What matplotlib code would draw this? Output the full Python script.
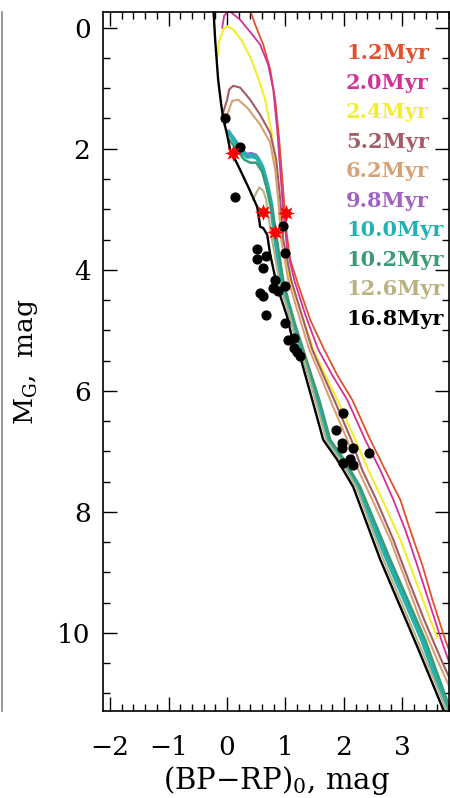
import matplotlib
matplotlib.use("Agg")
import matplotlib.pyplot as plt
from matplotlib.ticker import MultipleLocator
from matplotlib.lines import Line2D

# --- isochrones: (BP-RP)_0 colour, M_G ---
c_16_8 = [-0.236, -0.202, -0.151, -0.099, -0.065, 0.003, 0.055, 0.140, 0.226, 0.363, 0.517, 0.551,
          0.568, 0.620, 0.688, 0.740, 0.860, 1.031, 1.134, 1.253, 1.459, 1.647, 1.887, 2.161, 2.623,
          3.257, 3.702, 3.822]
m_16_8 = [-0.38, 0.20, 0.86, 1.27, 1.49, 1.77, 2.02, 2.18, 2.35, 2.63, 2.96, 3.17,
          3.29, 3.31, 3.42, 3.75, 4.28, 4.78, 5.21, 5.44, 6.15, 6.81, 7.14, 7.59, 8.79,
          10.23, 11.27, 11.55]

c_12_6 = [0.449, 0.500, 0.551, 0.620, 0.671, 0.705, 0.757, 0.825, 0.911, 1.082, 1.185, 1.305,
          1.510, 1.699, 1.938, 2.212, 2.675, 3.308, 3.753, 3.870]
m_12_6 = [2.84, 2.73, 2.64, 2.69, 2.84, 3.09, 3.42, 3.80, 4.28, 4.78, 5.21, 5.44,
          6.15, 6.81, 7.14, 7.59, 8.79, 10.23, 11.27, 11.55]

c_10_2 = [0.038, 0.175, 0.295, 0.397, 0.500, 0.603, 0.688, 0.774, 0.843, 0.894, 0.962, 1.048,
          1.168, 1.305, 1.579, 1.767, 2.007, 2.281, 2.795, 3.394, 3.822, 3.95]
m_10_2 = [1.85, 2.02, 2.18, 2.23, 2.23, 2.38, 2.68, 3.01, 3.42, 3.75, 4.17, 4.50,
          4.91, 5.32, 6.15, 6.81, 7.14, 7.59, 8.79, 10.12, 11.27, 11.50]

c_10_0 = [0.038, 0.140, 0.260, 0.346, 0.432, 0.517, 0.603, 0.688, 0.757, 0.808, 0.860, 0.928,
          1.014, 1.134, 1.271, 1.545, 1.733, 1.973, 2.247, 2.743, 3.342, 3.771, 3.908]
m_10_0 = [1.74, 1.88, 2.05, 2.13, 2.12, 2.15, 2.30, 2.60, 2.93, 3.34, 3.72, 4.17,
          4.50, 4.91, 5.32, 6.15, 6.81, 7.14, 7.59, 8.79, 10.12, 11.27, 11.52]

c_9_8 = [0.021, 0.130, 0.250, 0.335, 0.420, 0.505, 0.590, 0.675, 0.745, 0.795, 0.848, 0.915,
         1.000, 1.120, 1.257, 1.530, 1.718, 1.958, 2.232, 2.728, 3.327, 3.756, 3.890]
m_9_8 = [1.70, 1.84, 2.00, 2.08, 2.07, 2.10, 2.25, 2.55, 2.88, 3.30, 3.70, 4.15,
         4.48, 4.89, 5.30, 6.13, 6.79, 7.12, 7.57, 8.77, 10.10, 11.25, 11.50]

c_6_2 = [-0.048, 0.021, 0.089, 0.192, 0.346, 0.568, 0.740, 0.825, 0.877, 0.928, 1.048, 1.253,
         1.408, 1.596, 1.767, 2.058, 2.247, 2.486, 2.795, 3.052, 3.308, 3.600, 3.908]
m_6_2 = [1.60, 1.39, 1.21, 1.19, 1.32, 1.60, 1.90, 2.35, 2.84, 3.50, 4.17, 4.83,
         5.32, 5.74, 6.15, 6.81, 7.31, 7.80, 8.46, 9.12, 9.79, 10.45, 11.11]

c_5_2 = [-0.065, 0.003, 0.038, 0.106, 0.226, 0.397, 0.568, 0.740, 0.843, 0.911, 0.962, 1.099,
         1.305, 1.459, 1.647, 1.835, 2.127, 2.315, 2.555, 2.846, 3.103, 3.377, 3.668, 3.976]
m_5_2 = [1.40, 1.19, 1.02, 0.96, 0.99, 1.19, 1.44, 1.74, 2.18, 2.84, 3.50, 4.17,
         4.83, 5.32, 5.74, 6.15, 6.81, 7.31, 7.80, 8.46, 9.12, 9.79, 10.45, 11.11]

c_2_4 = [-0.168, -0.134, -0.065, 0.003, 0.106, 0.243, 0.397, 0.534, 0.654, 0.757, 0.843, 0.894,
         0.962, 1.082, 1.253, 1.476, 1.682, 1.887, 2.195, 2.418, 2.658, 2.966, 3.223, 3.445, 3.600]
m_2_4 = [0.50, 0.23, 0.03, -0.03, 0.03, 0.20, 0.48, 0.83, 1.19, 1.69, 2.35, 3.01,
         3.67, 4.17, 4.66, 5.32, 5.74, 6.15, 6.81, 7.31, 7.80, 8.46, 9.12, 9.70, 10.08]

c_2_0 = [-0.082, -0.048, 0.038, 0.226, 0.397, 0.568, 0.705, 0.791, 0.860, 0.911, 0.962, 1.031,
         1.151, 1.339, 1.562, 1.801, 2.058, 2.366, 2.623, 2.846, 3.052, 3.223, 3.445, 3.668, 3.908]
m_2_0 = [0.00, -0.20, -0.28, -0.13, 0.07, 0.28, 0.61, 1.02, 1.69, 2.35, 3.01, 3.67,
         4.17, 4.74, 5.32, 5.74, 6.15, 6.81, 7.31, 7.80, 8.30, 8.79, 9.45, 10.12, 10.78]

c_1_2 = [0.363, 0.483, 0.620, 0.740, 0.825, 0.894, 0.962, 1.014, 1.082, 1.219, 1.425, 1.664,
         1.887, 2.144, 2.452, 2.709, 2.880, 2.966, 3.103, 3.223, 3.342, 3.514, 3.736, 3.959]
m_1_2 = [-0.38, -0.05, 0.28, 0.69, 1.19, 1.85, 2.68, 3.34, 3.83, 4.25, 4.83, 5.32,
         5.74, 6.15, 6.81, 7.31, 7.64, 7.80, 8.21, 8.55, 8.88, 9.45, 10.12, 10.69]

# --- cluster members ---
star_c = [-0.031, 0.226, 0.140, 0.960, 0.517, 0.517, 0.670, 0.620, 1.000, 0.825, 0.790, 0.877,
          1.000, 0.568, 0.620, 0.670, 1.000, 1.050, 1.150, 1.150, 1.200, 1.250,
          1.990, 1.870, 1.970, 1.960, 2.160, 2.430, 2.110, 1.990, 2.160]
star_m = [1.49, 1.97, 2.79, 3.27, 3.65, 3.82, 3.78, 3.97, 3.72, 4.17, 4.30, 4.35,
          4.26, 4.38, 4.43, 4.74, 4.88, 5.16, 5.12, 5.29, 5.35, 5.42,
          6.36, 6.64, 6.86, 6.95, 6.94, 7.02, 7.12, 7.19, 7.22]

red_c = [0.106, 0.620, 1.010, 0.825]
red_m = [2.07, 3.04, 3.06, 3.37]

ages = ["1.2Myr", "2.0Myr", "2.4Myr", "5.2Myr", "6.2Myr", "9.8Myr", "10.0Myr", "10.2Myr", "12.6Myr", "16.8Myr"]
colors = ["#e2502c", "#d4309a", "#f2ee2e", "#a45c66", "#d9a173", "#a262c4", "#22b2b4", "#3c9a74", "#bab282", "#000000"]
tracks = [(c_1_2, m_1_2), (c_2_0, m_2_0), (c_2_4, m_2_4), (c_5_2, m_5_2), (c_6_2, m_6_2),
          (c_9_8, m_9_8), (c_10_0, m_10_0), (c_10_2, m_10_2), (c_12_6, m_12_6), (c_16_8, m_16_8)]
widths = [1.3, 1.3, 1.5, 1.5, 1.5, 1.5, 3.2, 1.8, 1.5, 1.7]

plt.rcParams['font.family'] = ['DejaVu Serif']
plt.rcParams['mathtext.fontset'] = 'dejavuserif'

fig = plt.figure(figsize=(4.5, 7.98), dpi=100)
ax = fig.add_axes([0.229, 0.109, 0.769, 0.876])

# draw order: young first, old on top
for (c, m), col, lw in zip(tracks, colors, widths):
    ax.plot(c, m, color=col, lw=lw, solid_joinstyle='round')

ax.scatter(star_c, star_m, s=40, color='black', zorder=5)
ax.scatter(red_c, red_m, s=150, color='red', marker=(8, 1, 0), zorder=6, linewidths=0)

for i, (lab, col) in enumerate(zip(ages, colors)):
    ax.text(0.702, 0.941 - i * 0.0422, lab, color=col, fontsize=15, fontweight='bold',
            transform=ax.transAxes, va='center', ha='left')

ax.set_xlim(-2.12, 3.80)
ax.set_ylim(11.29, -0.26)
ax.xaxis.set_major_locator(MultipleLocator(1))
ax.xaxis.set_minor_locator(MultipleLocator(0.2))
ax.yaxis.set_major_locator(MultipleLocator(2))
ax.yaxis.set_minor_locator(MultipleLocator(0.5))
ax.tick_params(which='both', direction='in', top=True, right=True, labelsize=19, width=1)
ax.tick_params(which='major', length=10)
ax.tick_params(which='minor', length=5)
ax.tick_params(axis='x', which='major', pad=17)
ax.tick_params(axis='y', which='major', pad=9)
ax.set_yticks([0, 2, 4, 6, 8, 10])
ax.set_xticks([-2, -1, 0, 1, 2, 3])
ax.set_xticklabels(['−2', '−1', '0', '1', '2', '3'])
for s in ax.spines.values():
    s.set_linewidth(1.2)

ax.set_xlabel('(BP−RP)$_0$, mag', fontsize=21, labelpad=3)
ax.set_ylabel(r'M$_\mathrm{G}$,  mag', fontsize=19, labelpad=12)

# edge of the neighbouring panel
fig.add_artist(Line2D([0.004, 0.004], [0.109, 0.985], color='#888888', lw=1.2, transform=fig.transFigure))

fig.savefig("out.png", dpi=100)
